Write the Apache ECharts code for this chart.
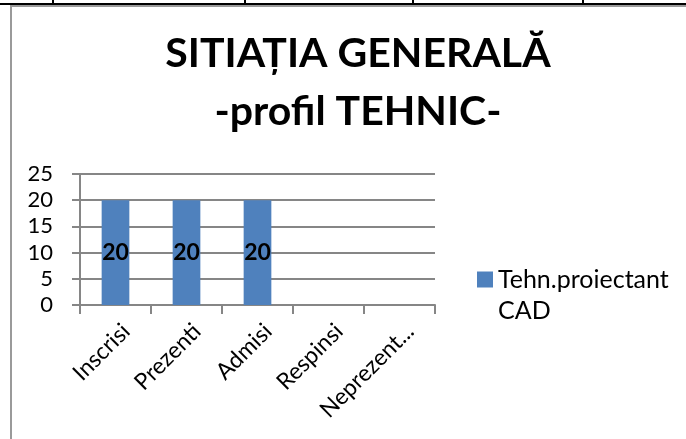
<!DOCTYPE html>
<html>
<head>
<meta charset="utf-8">
<script src="https://cdn.jsdelivr.net/npm/echarts@6/dist/echarts.min.js"></script>
<style>
  body { margin: 0; background: #fff; }
  #wrap { position: relative; width: 686px; height: 439px; overflow: hidden; }
  #myChart { position: absolute; left: 0; top: 0; width: 686px; height: 439px; }
  .ln { position: absolute; }
</style>
</head>
<body>
<div id="wrap">
  <div id="myChart"></div>
  <!-- table border above the chart and chart frame -->
  <div class="ln" style="left:0;top:3px;width:686px;height:2px;background:#000"></div>
  <div class="ln" style="left:52px;top:0;width:2px;height:4px;background:#000"></div>
  <div class="ln" style="left:244px;top:0;width:2px;height:4px;background:#000"></div>
  <div class="ln" style="left:412px;top:0;width:2px;height:4px;background:#000"></div>
  <div class="ln" style="left:582px;top:0;width:2px;height:4px;background:#000"></div>
  <div class="ln" style="left:10px;top:5px;width:676px;height:2px;background:#9a9a9a"></div>
  <div class="ln" style="left:10px;top:5px;width:2px;height:434px;background:#9a9a9a"></div>
</div>
<script>
  // date grafic
  var categorii = ['Inscrisi', 'Prezenti', 'Admisi', 'Respinsi', 'Neprezent...'];
  var valori = [20, 20, 20, null, null];
  var numeSerie = 'Tehn.proiectant\nCAD';
  var titlu = 'SITIAȚIA GENERALĂ\n-profil TEHNIC-';

  var myChart = echarts.init(document.getElementById('myChart'));
  myChart.setOption({
    animation: false,
    title: {
      text: titlu,
      left: 353,
      textAlign: 'center',
      top: 20,
      textStyle: {
        fontFamily: 'Lato',
        fontWeight: 'bold',
        fontSize: 41,
        lineHeight: 58,
        color: '#000'
      }
    },
    legend: {
      data: [numeSerie],
      orient: 'vertical',
      left: 477,
      top: 233,
      padding: 0,
      icon: 'rect',
      itemWidth: 16,
      itemHeight: 16,
      itemGap: 6,
      // linie goala in fata ca patratul sa stea pe primul rand
      formatter: function (name) { return ' \n' + name; },
      textStyle: {
        fontFamily: 'Lato',
        fontSize: 25,
        lineHeight: 31,
        color: '#000'
      }
    },
    grid: {
      left: 80,
      right: 251,
      top: 174,
      bottom: 134,
      containLabel: false
    },
    xAxis: {
      type: 'category',
      data: categorii,
      axisLine: { lineStyle: { color: '#868686', width: 2 } },
      axisTick: { show: true, length: 9, lineStyle: { color: '#868686', width: 2 } },
      axisLabel: {
        interval: 0,
        rotate: 45,
        margin: 12,
        verticalAlign: 'top',
        lineHeight: 30,
        fontFamily: 'Lato',
        fontSize: 23,
        color: '#000'
      }
    },
    yAxis: {
      type: 'value',
      min: 0,
      max: 25,
      interval: 5,
      axisLine: { show: true, lineStyle: { color: '#868686', width: 2 } },
      axisTick: { show: true, length: 8, lineStyle: { color: '#868686', width: 2 } },
      splitLine: { lineStyle: { color: '#868686', width: 2 } },
      axisLabel: {
        margin: 27,
        fontFamily: 'Lato',
        fontSize: 22,
        color: '#000'
      }
    },
    series: [{
      name: numeSerie,
      type: 'bar',
      data: valori,
      barWidth: '39%',
      itemStyle: { color: '#4f81bd' },
      label: {
        show: true,
        position: 'inside',
        fontFamily: 'Lato',
        fontWeight: 'bold',
        fontSize: 23,
        color: '#000'
      }
    }]
  });
</script>
</body>
</html>
